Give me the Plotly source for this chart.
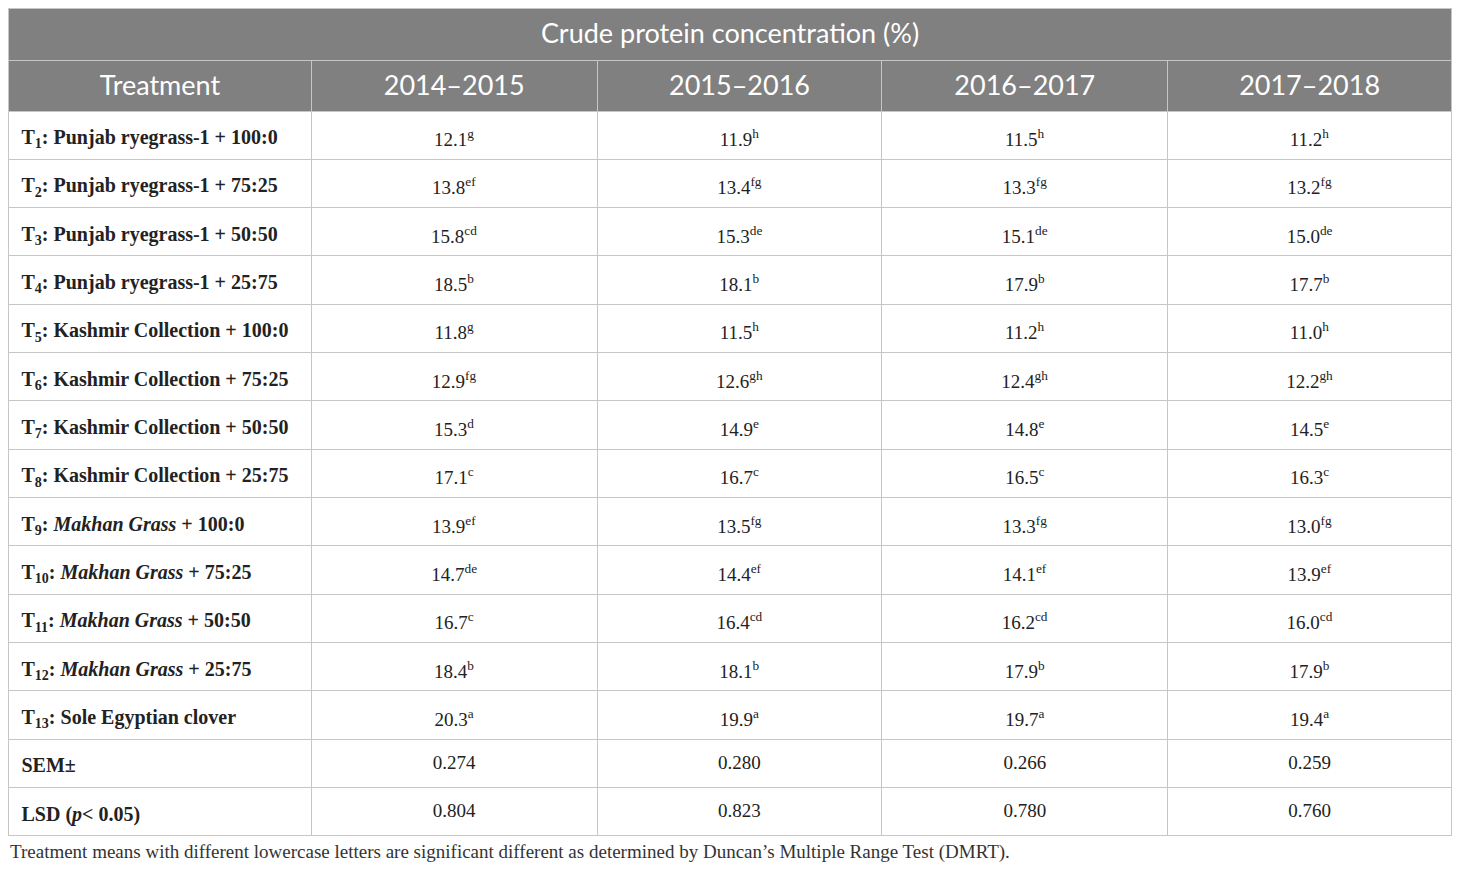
import plotly.graph_objects as go

title = "Crude protein concentration (%)"
columns = ["Treatment", "2014\u20132015", "2015\u20132016", "2016\u20132017", "2017\u20132018"]

treatments = [
    "T<sub>1</sub>: Punjab ryegrass-1 + 100:0",
    "T<sub>2</sub>: Punjab ryegrass-1 + 75:25",
    "T<sub>3</sub>: Punjab ryegrass-1 + 50:50",
    "T<sub>4</sub>: Punjab ryegrass-1 + 25:75",
    "T<sub>5</sub>: Kashmir Collection + 100:0",
    "T<sub>6</sub>: Kashmir Collection + 75:25",
    "T<sub>7</sub>: Kashmir Collection + 50:50",
    "T<sub>8</sub>: Kashmir Collection + 25:75",
    "T<sub>9</sub>: <i>Makhan Grass</i> + 100:0",
    "T<sub>10</sub>: <i>Makhan Grass</i> + 75:25",
    "T<sub>11</sub>: <i>Makhan Grass</i> + 50:50",
    "T<sub>12</sub>: <i>Makhan Grass</i> + 25:75",
    "T<sub>13</sub>: Sole Egyptian clover",
    "SEM\u00b1",
    "LSD (<i>p</i>< 0.05)",
]

y2014 = [12.1, 13.8, 15.8, 18.5, 11.8, 12.9, 15.3, 17.1, 13.9, 14.7, 16.7, 18.4, 20.3]
l2014 = ["g", "ef", "cd", "b", "g", "fg", "d", "c", "ef", "de", "c", "b", "a"]
y2015 = [11.9, 13.4, 15.3, 18.1, 11.5, 12.6, 14.9, 16.7, 13.5, 14.4, 16.4, 18.1, 19.9]
l2015 = ["h", "fg", "de", "b", "h", "gh", "e", "c", "fg", "ef", "cd", "b", "a"]
y2016 = [11.5, 13.3, 15.1, 17.9, 11.2, 12.4, 14.8, 16.5, 13.3, 14.1, 16.2, 17.9, 19.7]
l2016 = ["h", "fg", "de", "b", "h", "gh", "e", "c", "fg", "ef", "cd", "b", "a"]
y2017 = [11.2, 13.2, 15.0, 17.7, 11.0, 12.2, 14.5, 16.3, 13.0, 13.9, 16.0, 17.9, 19.4]
l2017 = ["h", "fg", "de", "b", "h", "gh", "e", "c", "fg", "ef", "cd", "b", "a"]

sem = [0.274, 0.280, 0.266, 0.259]
lsd = [0.804, 0.823, 0.780, 0.760]

note = ("Treatment means with different lowercase letters are significant different "
        "as determined by Duncan\u2019s Multiple Range Test (DMRT).")


def year_col(vals, letters, s, l):
    out = [f"{v:.1f}<sup>{t}</sup>" for v, t in zip(vals, letters)]
    out.append(f"{s:.3f}")
    out.append(f"{l:.3f}")
    return out


first_col = [f"\u00a0<b>{t}</b>" for t in treatments]
cells = [first_col,
         year_col(y2014, l2014, sem[0], lsd[0]),
         year_col(y2015, l2015, sem[1], lsd[1]),
         year_col(y2016, l2016, sem[2], lsd[2]),
         year_col(y2017, l2017, sem[3], lsd[3])]
blank = [[""] * len(treatments) for _ in columns]

# page has an 8px body margin, so the figure is drawn inside it
W, H = 1444, 857
grid = "#c6c6c6"
head_fill = "#808080"
clear = "rgba(0,0,0,0)"
widths = [303, 286, 285, 286, 284]
row_h = 48.33
shift = 7  # plotly tables put text near the top of a cell; nudge it down
xdom = [0.5 / W, 1443.5 / W]


def ydom(top, bottom):
    return [1 - bottom / H, 1 - top / H]


fig = go.Figure()

# grid + fills
fig.add_trace(go.Table(
    domain=dict(x=xdom, y=ydom(0.5, 54)),
    header=dict(values=[""], height=52, fill_color=head_fill,
                line=dict(color=grid, width=1)),
    cells=dict(values=[[]], height=0),
))
fig.add_trace(go.Table(
    domain=dict(x=xdom, y=ydom(52, 831)),
    columnwidth=widths,
    header=dict(values=[""] * len(columns), height=51, fill_color=head_fill,
                line=dict(color=grid, width=1)),
    cells=dict(values=blank, height=row_h, fill_color="white",
               line=dict(color=grid, width=1)),
))

# text layers
fig.add_trace(go.Table(
    domain=dict(x=xdom, y=ydom(0 + shift, 52 + shift)),
    header=dict(values=[title], height=52, fill_color=clear,
                line=dict(color=clear, width=0), align="center",
                font=dict(family="Lato", size=27, color="white")),
    cells=dict(values=[[]], height=0),
))
fig.add_trace(go.Table(
    domain=dict(x=xdom, y=ydom(52 + shift, 828 + shift)),
    columnwidth=widths,
    header=dict(values=columns, height=51, fill_color=clear,
                line=dict(color=clear, width=0), align="center",
                font=dict(family="Lato", size=27, color="white")),
    cells=dict(values=cells, height=row_h, fill_color=clear,
               line=dict(color=clear, width=0),
               align=["left", "center", "center", "center", "center"],
               font=dict(family="Liberation Serif", size=[20, 19, 19, 19, 19],
                         color="#222222")),
))

fig.add_annotation(x=0, y=0, xref="paper", yref="paper",
                   xanchor="left", yanchor="bottom", showarrow=False,
                   text=note, font=dict(family="Liberation Serif", size=19, color="#333333"))

fig.update_layout(width=W, height=H, margin=dict(l=0, r=0, t=0, b=0),
                  paper_bgcolor="white", plot_bgcolor="white")

fig.write_html("out.html")
